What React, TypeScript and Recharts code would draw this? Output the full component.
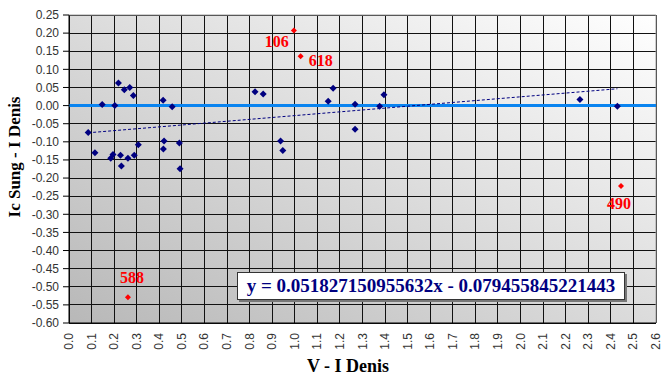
import { ScatterChart, Scatter, XAxis, YAxis, CartesianGrid, ReferenceLine } from "recharts";

// V - I (Denis) vs Ic(Sung) - I(Denis)
const MAIN_X = [
  0.085, 0.115, 0.147, 0.203, 0.219, 0.245, 0.269, 0.285, 0.185, 0.195, 0.228,
  0.232, 0.261, 0.289, 0.307, 0.417, 0.457, 0.421, 0.418, 0.489, 0.492, 0.824,
  0.86, 0.937, 0.947, 1.148, 1.17, 1.267, 1.267, 1.376, 1.395, 2.263, 2.429,
];
const MAIN_Y = [
  -0.074, -0.13, 0.003, 0.0, 0.062, 0.044, 0.05, 0.028, -0.145, -0.135, -0.137,
  -0.167, -0.145, -0.137, -0.108, 0.015, -0.003, -0.098, -0.12, -0.103, -0.174, 0.038,
  0.032, -0.098, -0.124, 0.012, 0.048, 0.004, -0.065, -0.002, 0.03, 0.017, -0.002,
];

const OUT_NAMES = ["106", "618", "490", "588"];
const OUT_X = [0.996, 1.026, 2.445, 0.261];
const OUT_Y = [0.207, 0.136, -0.222, -0.529];

const SLOPE = 0.051827150955632;
const INTERCEPT = -0.079455845221443;

const X_TICKS = Array.from({ length: 27 }, (_, i) => i / 10);
const Y_TICKS = Array.from({ length: 18 }, (_, i) => (i * 5 - 60) / 100);

const mainData = MAIN_X.map((x, i) => ({ x, y: MAIN_Y[i] }));
const outData = OUT_X.map((x, i) => ({ x, y: OUT_Y[i], name: OUT_NAMES[i] }));

const xMin = Math.min(...MAIN_X);
const xMax = Math.max(...MAIN_X);
const trend = [
  { x: xMin, y: SLOPE * xMin + INTERCEPT },
  { x: xMax, y: SLOPE * xMax + INTERCEPT },
];

// label placement for the outliers (dx, dy, anchor)
const LABEL_POS: Record<string, [number, number, string]> = {
  "106": [-5, 16, "end"],
  "618": [8, 10, "start"],
  "490": [-2, 23, "middle"],
  "588": [4, -14, "middle"],
};

const serif = "'Liberation Serif', 'Times New Roman', serif";
const sans = "'Liberation Sans', Arial, sans-serif";

const Diamond = (props: any) => {
  const { cx, cy } = props;
  const r = 3.5;
  return <polygon points={`${cx},${cy - r} ${cx + r},${cy} ${cx},${cy + r} ${cx - r},${cy}`} fill="#000080" />;
};

const RedDiamond = (props: any) => {
  const { cx, cy, payload } = props;
  const r = 3;
  const [dx, dy, anchor] = LABEL_POS[payload.name] || [0, -8, "middle"];
  return (
    <g>
      <polygon points={`${cx},${cy - r} ${cx + r},${cy} ${cx},${cy + r} ${cx - r},${cy}`} fill="#ff0000" />
      <text x={cx + dx} y={cy + dy} textAnchor={anchor as any} fill="#ff0000" fontFamily={serif} fontWeight="bold" fontSize={16}>
        {payload.name}
      </text>
    </g>
  );
};

const XTick = (props: any) => {
  const { x, y, payload } = props;
  return (
    <text x={x} y={y} dy={4} transform={`rotate(-90, ${x}, ${y})`} textAnchor="end" fill="#333" fontFamily={sans} fontSize={12}>
      {payload.value.toFixed(1)}
    </text>
  );
};

export default function App() {
  return (
    <div style={{ position: "absolute", left: 0, top: 0, width: 662, height: 378, background: "#fff" }}>
      <svg width={0} height={0} style={{ position: "absolute" }}>
        <defs>
          <linearGradient id="plotBg" x1="0" y1="1" x2="1" y2="0">
            <stop offset="0%" stopColor="#b8b8b8" />
            <stop offset="100%" stopColor="#ffffff" />
          </linearGradient>
        </defs>
      </svg>
      <ScatterChart width={662} height={378} margin={{ top: 15, right: 6, bottom: 0, left: 0 }}>
        <CartesianGrid stroke="#111" fill="url(#plotBg)" fillOpacity={1} shapeRendering="crispEdges" />
        <XAxis
          type="number"
          dataKey="x"
          domain={[0, 2.6]}
          ticks={X_TICKS}
          interval={0}
          height={55}
          tickLine={false}
          tickSize={0}
          tickMargin={10}
          stroke="#000"
          tick={<XTick />}
        />
        <YAxis
          type="number"
          dataKey="y"
          domain={[-0.6, 0.25]}
          ticks={Y_TICKS}
          interval={0}
          width={69}
          tickSize={6}
          tickMargin={4}
          stroke="#000"
          tick={{ fill: "#333", fontFamily: sans, fontSize: 12 }}
          tickFormatter={(v: number) => v.toFixed(2)}
        />
        <ReferenceLine y={0.25} stroke="#a0a0a0" />
        <ReferenceLine x={2.6} stroke="#a0a0a0" />
        <ReferenceLine y={0} stroke="#0a84f0" strokeWidth={3} />
        <ReferenceLine segment={trend} stroke="#000080" strokeDasharray="3 2" strokeWidth={1} />
        <Scatter data={mainData} shape={<Diamond />} isAnimationActive={false} />
        <Scatter data={outData} shape={<RedDiamond />} isAnimationActive={false} />
      </ScatterChart>
      <svg width={662} height={378} style={{ position: "absolute", left: 0, top: 0, pointerEvents: "none" }}>
        <text x={20} y={157} transform="rotate(-90, 20, 157)" textAnchor="middle" fontFamily={serif} fontWeight="bold" fontSize={17} fill="#000">
          Ic Sung - I Denis
        </text>
        <text x={348} y={372} textAnchor="middle" fontFamily={serif} fontWeight="bold" fontSize={18} fill="#000">
          V - I Denis
        </text>
      </svg>
      <div
        style={{
          position: "absolute",
          left: 237,
          top: 272,
          width: 388,
          height: 28,
          boxSizing: "border-box",
          background: "#fff",
          border: "1px solid #333",
          boxShadow: "2px 2px 0 #777",
          fontFamily: serif,
          fontWeight: "bold",
          fontSize: 19,
          color: "#000080",
          lineHeight: "26px",
          textAlign: "center",
          whiteSpace: "nowrap",
        }}
      >
        y = 0.051827150955632x - 0.079455845221443
      </div>
    </div>
  );
}
